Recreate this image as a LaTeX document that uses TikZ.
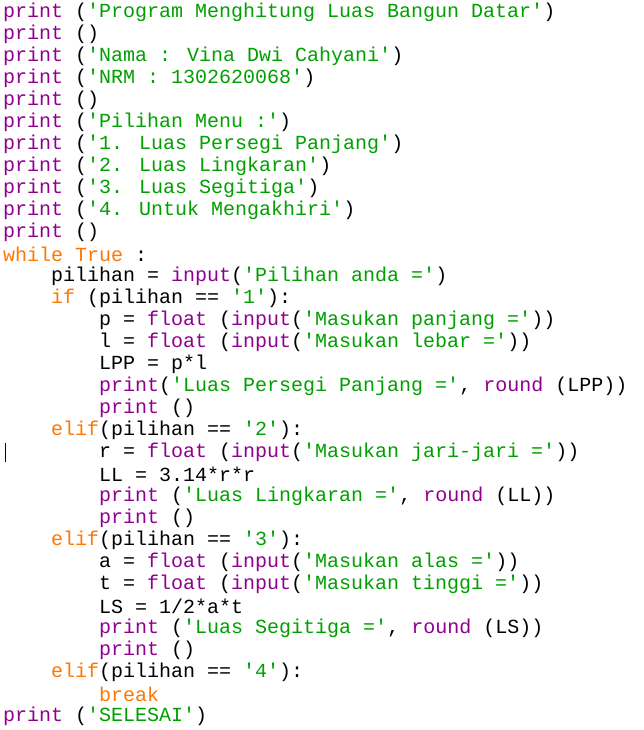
\documentclass[tikz,border=0pt]{standalone}
\usepackage{fontspec}
\newfontfamily\cf{Liberation Mono}
\definecolor{kwc}{HTML}{FF7700}
\definecolor{bic}{HTML}{900090}
\definecolor{stc}{HTML}{00A000}
\newcommand{\kw}[1]{\textcolor{kwc}{#1}}
\newcommand{\bi}[1]{\textcolor{bic}{#1}}
\newcommand{\st}[1]{\textcolor{stc}{#1}}
\tikzset{ln/.style={anchor=west,inner sep=0pt,font=\cf\fontsize{20pt}{20pt}\selectfont}}
\begin{document}
\begin{tikzpicture}[x=1pt,y=-1pt]
\useasboundingbox[fill=white] (0,0) rectangle (643,730);
\def\L#1#2#3{\node[ln] (l#1) at (#2,{12+22*(#1-1)}) {#3};}
\L{1}{3}{\bi{print} (\st{'Program Menghitung Luas Bangun Datar'})}
\L{2}{3}{\bi{print} ()}
\L{3}{3}{\bi{print} (\st{'Nama : Vina Dwi Cahyani'})}
\L{4}{3}{\bi{print} (\st{'NRM : 1302620068'})}
\L{5}{3}{\bi{print} ()}
\L{6}{3}{\bi{print} (\st{'Pilihan Menu :'})}
\L{7}{3}{\bi{print} (\st{'1. Luas Persegi Panjang'})}
\L{8}{3}{\bi{print} (\st{'2. Luas Lingkaran'})}
\L{9}{3}{\bi{print} (\st{'3. Luas Segitiga'})}
\L{10}{3}{\bi{print} (\st{'4. Untuk Mengakhiri'})}
\L{11}{3}{\bi{print} ()}
\L{12}{3}{\kw{while} \kw{True} :}
\L{13}{51}{pilihan = \bi{input}(\st{'Pilihan anda ='})}
\L{14}{51}{\kw{if} (pilihan == \st{'1'}):}
\L{15}{99}{p = \bi{float} (\bi{input}(\st{'Masukan panjang ='}))}
\L{16}{99}{l = \bi{float} (\bi{input}(\st{'Masukan lebar ='}))}
\L{17}{99}{LPP = p*l}
\L{18}{99}{\bi{print}(\st{'Luas Persegi Panjang ='}, \bi{round} (LPP))}
\L{19}{99}{\bi{print} ()}
\L{20}{51}{\kw{elif}(pilihan == \st{'2'}):}
\L{21}{99}{r = \bi{float} (\bi{input}(\st{'Masukan jari-jari ='}))}
\L{22}{99}{LL = 3.14*r*r}
\L{23}{99}{\bi{print} (\st{'Luas Lingkaran ='}, \bi{round} (LL))}
\L{24}{99}{\bi{print} ()}
\L{25}{51}{\kw{elif}(pilihan == \st{'3'}):}
\L{26}{99}{a = \bi{float} (\bi{input}(\st{'Masukan alas ='}))}
\L{27}{99}{t = \bi{float} (\bi{input}(\st{'Masukan tinggi ='}))}
\L{28}{99}{LS = 1/2*a*t}
\L{29}{99}{\bi{print} (\st{'Luas Segitiga ='}, \bi{round} (LS))}
\L{30}{99}{\bi{print} ()}
\L{31}{51}{\kw{elif}(pilihan == \st{'4'}):}
\L{32}{99}{\kw{break}}
\L{33}{3}{\bi{print} (\st{'SELESAI'})}
\draw[line width=1pt] (5,443) -- (5,462);
\end{tikzpicture}
\end{document}
